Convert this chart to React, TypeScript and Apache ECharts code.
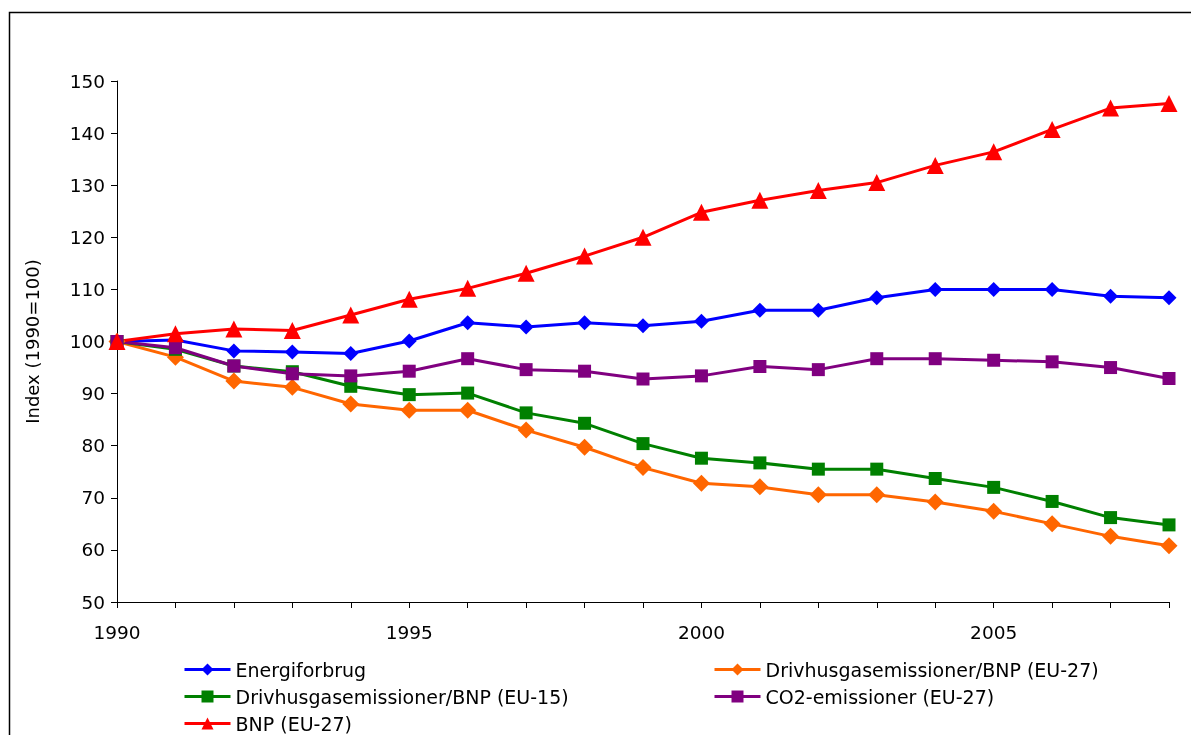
import React, { useEffect, useRef } from "react";
import * as echarts from "echarts";

const years = [1990, 1991, 1992, 1993, 1994, 1995, 1996, 1997, 1998, 1999, 2000, 2001, 2002, 2003, 2004, 2005, 2006, 2007, 2008];
const energiforbrug = [100, 100.3, 98.2, 98.0, 97.7, 100.1, 103.6, 102.8, 103.6, 103.0, 103.9, 106.0, 106.0, 108.4, 110.0, 110.0, 110.0, 108.7, 108.4];
const drivhusEU27 = [100, 97.0, 92.4, 91.2, 88.0, 86.8, 86.8, 83.0, 79.7, 75.8, 72.8, 72.1, 70.6, 70.6, 69.2, 67.4, 65.0, 62.6, 60.8];
const drivhusEU15 = [100, 98.5, 95.3, 94.2, 91.4, 89.8, 90.1, 86.3, 84.3, 80.4, 77.6, 76.7, 75.5, 75.5, 73.7, 72.0, 69.3, 66.2, 64.8];
const co2 = [100, 98.8, 95.3, 93.8, 93.4, 94.3, 96.7, 94.6, 94.3, 92.8, 93.4, 95.2, 94.6, 96.7, 96.7, 96.4, 96.1, 95.0, 92.9];
const bnp = [100, 101.5, 102.4, 102.1, 105.1, 108.1, 110.2, 113.1, 116.4, 120.0, 124.8, 127.1, 129.0, 130.5, 133.8, 136.4, 140.7, 144.8, 145.7];

const names = [
  "Energiforbrug",
  "Drivhusgasemissioner/BNP (EU-27)",
  "Drivhusgasemissioner/BNP (EU-15)",
  "CO2-emissioner (EU-27)",
  "BNP (EU-27)",
];
const yTicks = { min: 50, max: 150, interval: 10 };

const FONT = "DejaVu Sans";

export default function App() {
  const ref = useRef<HTMLDivElement>(null);
  useEffect(() => {
    if (!ref.current) return;
    const chart = echarts.init(ref.current, null, { renderer: "svg" });
    const mk = (name: string, vals: number[], color: string, symbol: string, size: number) => ({
      name,
      type: "line",
      data: years.map((y, i) => [y, vals[i]]),
      symbol,
      symbolSize: size,
      lineStyle: { color, width: 3 },
      itemStyle: { color },
      z: 2,
    });
    const legendText = { color: "#000", fontSize: 19, fontFamily: FONT, lineHeight: 19 };
    chart.setOption({
      animation: false,
      textStyle: { fontFamily: FONT },
      graphic: [
        {
          type: "rect",
          shape: { x: 9.5, y: 12.5, width: 1300, height: 900 },
          style: { fill: "none", stroke: "#000", lineWidth: 1.5 },
        },
      ],
      grid: { left: 117, top: 81, right: 22, bottom: 133 },
      xAxis: {
        type: "value",
        min: 1990,
        max: 2008,
        interval: 1,
        splitLine: { show: false },
        axisLine: { lineStyle: { color: "#000", width: 1 } },
        axisTick: { show: true, length: 6, lineStyle: { color: "#000" } },
        axisLabel: {
          color: "#000",
          fontSize: 18.5,
          fontFamily: FONT,
          margin: 21,
          showMaxLabel: true,
          formatter: (v: number) => (v % 5 === 0 ? String(v) : ""),
        },
      },
      yAxis: {
        type: "value",
        min: yTicks.min,
        max: yTicks.max,
        interval: yTicks.interval,
        name: "Index (1990=100)",
        nameLocation: "middle",
        nameGap: 76,
        nameTextStyle: { color: "#000", fontSize: 18, fontFamily: FONT },
        splitLine: { show: false },
        axisLine: { show: true, lineStyle: { color: "#000", width: 1 } },
        axisTick: { show: true, length: 6, lineStyle: { color: "#000" } },
        axisLabel: { color: "#000", fontSize: 18.5, fontFamily: FONT, margin: 12 },
      },
      legend: [
        {
          data: [names[0], names[2], names[4]],
          orient: "vertical",
          left: 183,
          top: 660,
          padding: 0,
          itemGap: 8,
          itemWidth: 46,
          itemHeight: 15,
          lineStyle: { width: 3 },
          textStyle: legendText,
        },
        {
          data: [names[1], names[3]],
          orient: "vertical",
          left: 713,
          top: 660,
          padding: 0,
          itemGap: 8,
          itemWidth: 46,
          itemHeight: 15,
          lineStyle: { width: 3 },
          textStyle: legendText,
        },
      ],
      series: [
        mk(names[0], energiforbrug, "#0000FF", "diamond", 15),
        mk(names[1], drivhusEU27, "#FF6600", "diamond", 17),
        mk(names[2], drivhusEU15, "#008000", "rect", 13),
        mk(names[3], co2, "#800080", "rect", 13),
        mk(names[4], bnp, "#FF0000", "triangle", 17),
      ],
    });
    return () => chart.dispose();
  }, []);
  return <div ref={ref} style={{ position: "fixed", left: 0, top: 0, width: 1191, height: 735 }} />;
}
